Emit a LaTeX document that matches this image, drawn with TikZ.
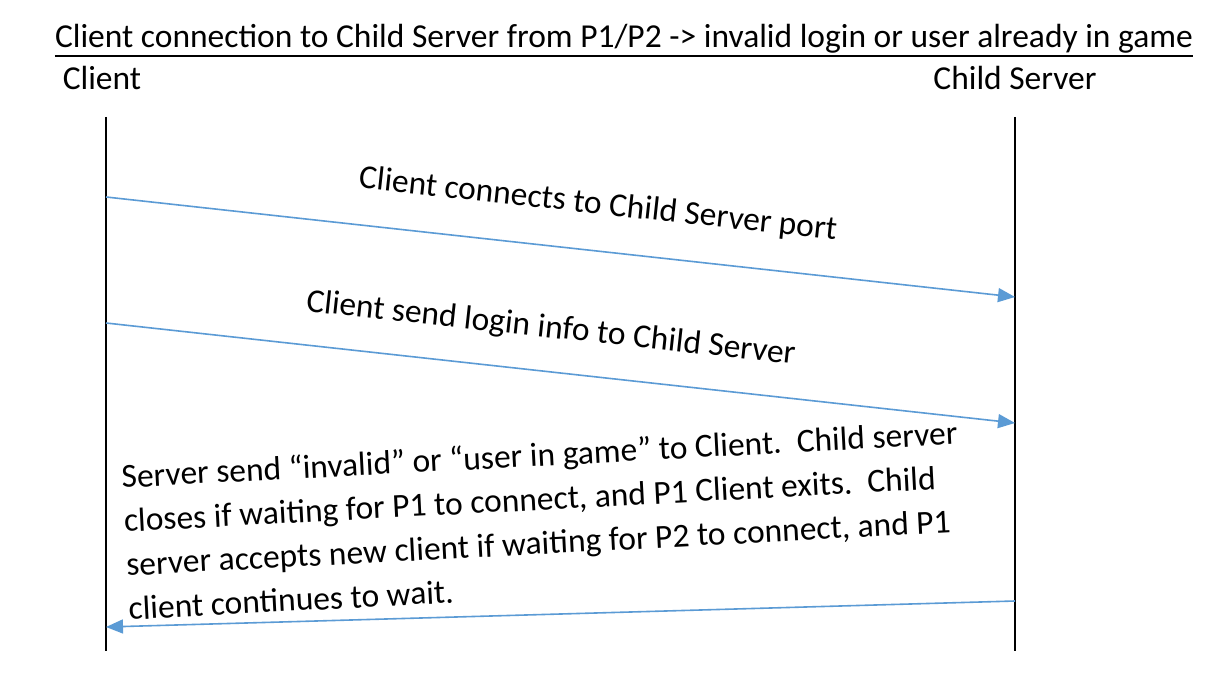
\documentclass[tikz,border=0pt]{standalone}
\usepackage{fontspec}
\setmainfont{Carlito}
\usetikzlibrary{arrows.meta}
\definecolor{msgblue}{HTML}{5B9BD5}
\tikzset{
  lifeline/.style={line width=1.8pt, black},
  msg/.style={line width=1.6pt, msgblue, -{Triangle[length=17pt,width=14pt]}},
  lbl/.style={inner sep=0pt, font=\fontsize{33.5}{44}\selectfont},
  head/.style={inner sep=0pt, font=\fontsize{33.5}{40}\selectfont}
}
\begin{document}
\begin{tikzpicture}[x=1pt,y=-1pt]
\useasboundingbox[fill=white] (0,0) rectangle (1212,674);
\node[head, anchor=base] (title) at (624,48) {Client connection to Child Server from P1/P2 -> invalid login or user already in game};
\draw[line width=1.8pt] (title.south west |- 0,56) coordinate (ulA) -- (title.south east |- 0,56) coordinate (ulB);
\node[head, anchor=base] (cl) at (102,90) {Client};
\node[head, anchor=base] (cs) at (1015,90) {Child Server};
\coordinate (ct) at (106,117);
\coordinate (cb) at (106,651);
\coordinate (st) at (1015,117);
\coordinate (sb) at (1015,651);
\draw[lifeline] (ct) -- (cb);
\draw[lifeline] (st) -- (sb);
\coordinate (a1s) at (106,197);
\coordinate (a1e) at (1015,297);
\coordinate (a2s) at (106,323);
\coordinate (a2e) at (1015,423);
\coordinate (a3s) at (1015,601);
\coordinate (a3e) at (106,627);
\draw[msg] (a1s) -- (a1e);
\draw[msg] (a2s) -- (a2e);
\draw[msg] (a3s) -- (a3e);
\node[lbl, rotate=-6.2] (l1) at (598,205) {Client connects to Child Server port};
\node[lbl, rotate=-6.2] (l2) at (551,329) {Client send login info to Child Server};
\node[lbl, rotate=3, align=left] (l3) at (543,520) {Server send “invalid” or “user in game” to Client.\ \ Child server\\closes if waiting for P1 to connect, and P1 Client exits.\ \ Child\\server accepts new client if waiting for P2 to connect, and P1\\client continues to wait.};
\end{tikzpicture}
\end{document}
